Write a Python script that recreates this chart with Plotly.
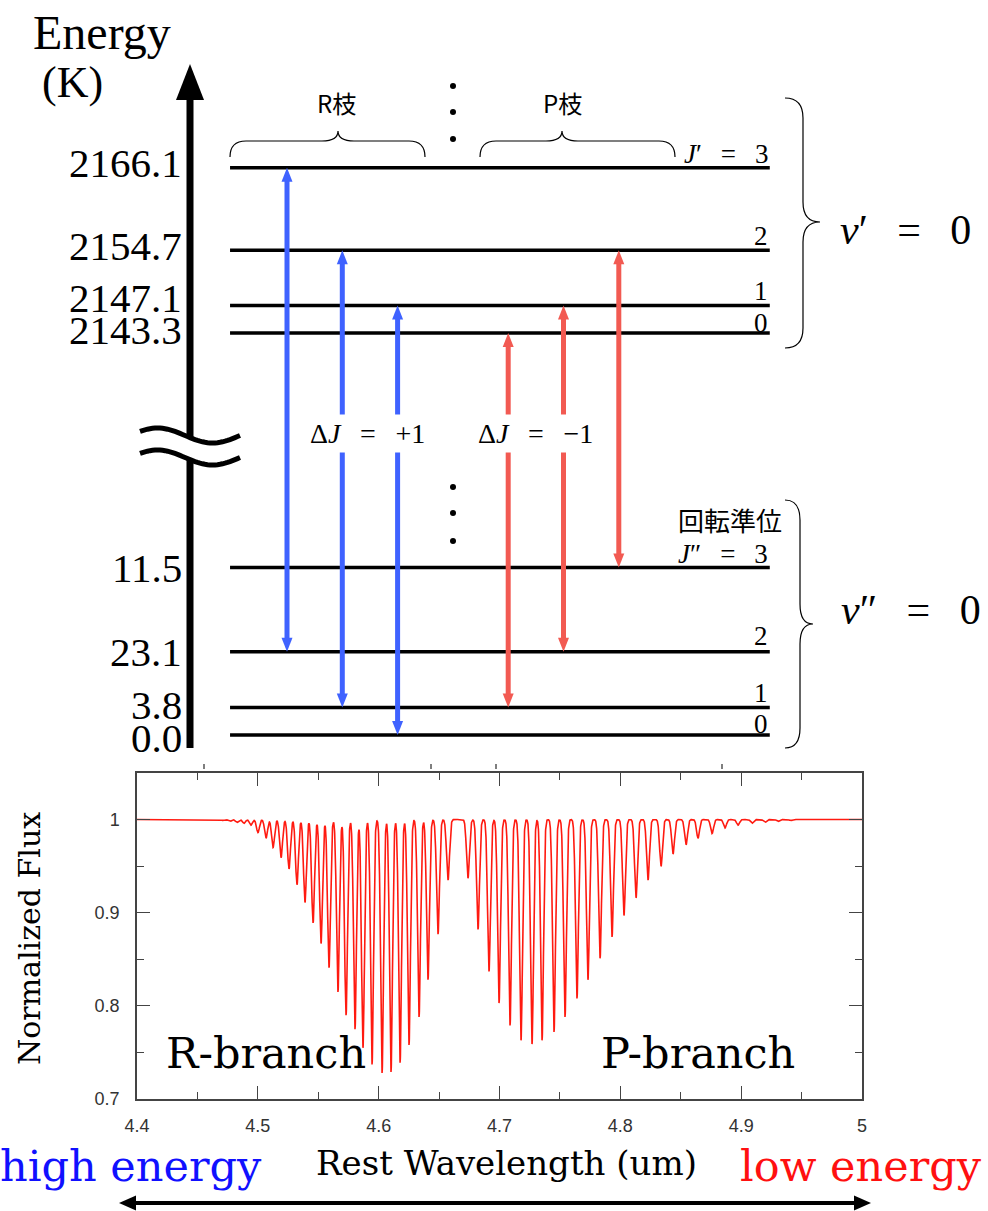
import numpy as np
import plotly.graph_objects as go

# ---------------- data ----------------
upper_J = [0, 1, 2, 3]
upper_energy_K = [2143.3, 2147.1, 2154.7, 2166.1]
upper_energy_labels = ["2143.3", "2147.1", "2154.7", "2166.1"]
upper_level_labels = ["0", "1", "2", "<i>J</i>′\u2002\u2009=\u2002\u20093"]

lower_J = [0, 1, 2, 3]
lower_energy_K = [0.0, 3.8, 11.5, 23.1]
lower_energy_labels = ["0.0", "3.8", "23.1", "11.5"]
lower_level_labels = ["0", "1", "2", "<i>J</i>″\u2002\u2009=\u2002\u20093"]

R_lower_J = [2, 1, 0]
R_upper_J = [3, 2, 1]
P_lower_J = [1, 2, 3]
P_upper_J = [0, 1, 2]

R_line_center_um = [4.4600, 4.4656, 4.4712, 4.4770, 4.4828, 4.4886, 4.4943, 4.5001, 4.5068,
                    4.5126, 4.5192, 4.5258, 4.5324, 4.5390, 4.5457, 4.5523, 4.5589, 4.5663,
                    4.5730, 4.5804, 4.5870, 4.5945, 4.6028, 4.6102, 4.6177, 4.6251, 4.6334,
                    4.6408, 4.6491, 4.6574]
R_line_min_flux = [0.9995, 0.9993, 0.999, 0.998, 0.997, 0.996, 0.994, 0.986, 0.980,
                   0.970, 0.959, 0.947, 0.930, 0.911, 0.889, 0.867, 0.841, 0.815,
                   0.790, 0.775, 0.755, 0.737, 0.728, 0.729, 0.739, 0.758, 0.788,
                   0.828, 0.877, 0.935]
P_line_center_um = [4.6739, 4.6822, 4.6913, 4.6996, 4.7087, 4.7178, 4.7269, 4.7352, 4.7451,
                    4.7542, 4.7641, 4.7732, 4.7832, 4.7931, 4.8030, 4.8130, 4.8229, 4.8337,
                    4.8436, 4.8544, 4.8643, 4.8759, 4.8866, 4.8974, 4.9090, 4.9197, 4.9305,
                    4.9412]
P_line_min_flux = [0.937, 0.882, 0.837, 0.803, 0.779, 0.763, 0.759, 0.763, 0.772,
                   0.788, 0.808, 0.828, 0.851, 0.874, 0.897, 0.916, 0.935, 0.950,
                   0.963, 0.973, 0.980, 0.985, 0.991, 0.994, 0.996, 0.997, 0.998,
                   0.999]

wavelength_tickvals = [4.4, 4.5, 4.6, 4.7, 4.8, 4.9, 5.0]
wavelength_ticktext = ["4.4", "4.5", "4.6", "4.7", "4.8", "4.9", "5"]
flux_tickvals = [0.7, 0.8, 0.9, 1.0]
flux_ticktext = ["0.7", "0.8", "0.9", "1"]

# ---------------- geometry helpers ----------------
W, H = 988, 1211


def xp(px):
    return px / W


def yp(py):
    return 1 - py / H


def P(px, py):
    return f"{xp(px):.5f},{yp(py):.5f}"


K_PX = 7.25          # pixels per kelvin in the level diagram
BASE_PX = 735        # pixel row of the 0 K level
UPPER_BASE_PX = 333  # pixel row of J'=0 (axis break)
upper_offset = upper_energy_K[0] - (BASE_PX - UPPER_BASE_PX) / K_PX


def disp_upper(e):
    return e - upper_offset


SLOT_PX, SLOT1_PX = 55.3, 287
x2_range = [1 - SLOT1_PX / SLOT_PX, 1 + (W - SLOT1_PX) / SLOT_PX]
y2_range = [-(H - BASE_PX) / K_PX, BASE_PX / K_PX]
LEVEL_X0, LEVEL_X1 = -0.03, 9.73
R_slots = [1, 2, 3]
P_slots = [5, 6, 7]
BLUE = "#3f62ff"
RED = "#f25a52"

fig = go.Figure()

# ---------------- energy levels ----------------
up_disp = [disp_upper(e) for e in upper_energy_K]
lo_disp = list(lower_energy_K)
for dlist in (up_disp, lo_disp):
    xs, ys = [], []
    for d in dlist:
        xs += [LEVEL_X0, LEVEL_X1, None]
        ys += [d, d, None]
    fig.add_trace(go.Scatter(x=xs, y=ys, xaxis="x2", yaxis="y2", mode="lines",
                             line=dict(color="black", width=3.5), hoverinfo="skip"))

# ---------------- transitions ----------------
HEAD_L = 14 / K_PX
HEAD_HW = 5.5 / SLOT_PX
shapes = []


def add_transitions(slots, lowJ, upJ, color):
    xs, ys = [], []
    for s, jl, ju in zip(slots, lowJ, upJ):
        d_lo = lo_disp[lower_J.index(jl)]
        d_up = up_disp[upper_J.index(ju)]
        xs += [s, s, None]
        ys += [d_lo + HEAD_L * 0.8, d_up - HEAD_L * 0.8, None]
        shapes.append(dict(type="path", xref="x2", yref="y2", fillcolor=color, line=dict(width=0),
                           path=f"M {s-HEAD_HW},{d_up-HEAD_L} L {s},{d_up} L {s+HEAD_HW},{d_up-HEAD_L} Z"))
        shapes.append(dict(type="path", xref="x2", yref="y2", fillcolor=color, line=dict(width=0),
                           path=f"M {s-HEAD_HW},{d_lo+HEAD_L} L {s},{d_lo} L {s+HEAD_HW},{d_lo+HEAD_L} Z"))
    fig.add_trace(go.Scatter(x=xs, y=ys, xaxis="x2", yaxis="y2", mode="lines",
                             line=dict(color=color, width=5), hoverinfo="skip"))


add_transitions(R_slots, R_lower_J, R_upper_J, BLUE)
add_transitions(P_slots, P_lower_J, P_upper_J, RED)

# ---------------- spectrum ----------------
wl = np.linspace(4.4, 5.0, 6001)
flux = np.ones_like(wl)
sigma = 0.0012
for c, f in zip(R_line_center_um + P_line_center_um, R_line_min_flux + P_line_min_flux):
    flux -= (1 - f) * np.exp(-0.5 * ((wl - c) / sigma) ** 2)
fig.add_trace(go.Scatter(x=wl, y=flux, xaxis="x", yaxis="y", mode="lines",
                         line=dict(color="#ff1a10", width=1.6), hoverinfo="skip"))

# ---------------- decorations ----------------
# energy axis arrow (broken)
shapes.append(dict(type="line", xref="paper", yref="paper", x0=xp(190), x1=xp(190), y0=yp(96), y1=yp(437),
                   line=dict(color="black", width=7)))
shapes.append(dict(type="line", xref="paper", yref="paper", x0=xp(190), x1=xp(190), y0=yp(459), y1=yp(748),
                   line=dict(color="black", width=7)))
shapes.append(dict(type="path", xref="paper", yref="paper", fillcolor="black", line=dict(width=0),
                   path=f"M {P(176,100)} L {P(190,64)} L {P(204,100)} Z"))


def wave(yc):
    xs = np.linspace(140, 240, 41)
    pts = [P(x, yc - 7.5 * np.sin(2 * np.pi * (x - 130) / 110)) for x in xs]
    return "M " + " L ".join(pts)


for yc in (435.5, 457.5):
    shapes.append(dict(type="path", xref="paper", yref="paper", path=wave(yc),
                       line=dict(color="black", width=5)))


def hbrace(x0, x1, xt, y_end, y_flat, y_tip, q=16):
    return (f"M {P(x0,y_end)} Q {P(x0,y_flat)} {P(x0+q,y_flat)} L {P(xt-q,y_flat)} "
            f"Q {P(xt,y_flat)} {P(xt,y_tip)} Q {P(xt,y_flat)} {P(xt+q,y_flat)} "
            f"L {P(x1-q,y_flat)} Q {P(x1,y_flat)} {P(x1,y_end)}")


def vbrace(x_end, x_mid, x_tip, y0, yt, y1, q=20):
    return (f"M {P(x_end,y0)} Q {P(x_mid,y0)} {P(x_mid,y0+q)} L {P(x_mid,yt-q)} "
            f"Q {P(x_mid,yt)} {P(x_tip,yt)} Q {P(x_mid,yt)} {P(x_mid,yt+q)} "
            f"L {P(x_mid,y1-q)} Q {P(x_mid,y1)} {P(x_end,y1)}")


for pth in (hbrace(230, 425, 338, 157, 141, 131), hbrace(480, 675, 562, 157, 141, 131),
            vbrace(785, 803, 820, 98, 222, 348), vbrace(785, 800, 813, 500, 624, 748)):
    shapes.append(dict(type="path", xref="paper", yref="paper", path=pth,
                       line=dict(color="black", width=1.2)))

for (cx, cy) in [(453, 86), (453, 112), (453, 139), (453, 487), (453, 513), (453, 541)]:
    shapes.append(dict(type="circle", xref="paper", yref="paper", fillcolor="black", line=dict(width=0),
                       x0=xp(cx - 3), x1=xp(cx + 3), y0=yp(cy + 3), y1=yp(cy - 3)))

for tx in (204, 431, 496, 722):
    shapes.append(dict(type="line", xref="paper", yref="paper", x0=xp(tx), x1=xp(tx),
                       y0=yp(769), y1=yp(764), line=dict(color="#555", width=1.5)))

# bottom double arrow
shapes.append(dict(type="line", xref="paper", yref="paper", x0=xp(132), x1=xp(858), y0=yp(1203), y1=yp(1203),
                   line=dict(color="black", width=4)))
shapes.append(dict(type="path", xref="paper", yref="paper", fillcolor="black", line=dict(width=0),
                   path=f"M {P(136,1195.5)} L {P(119,1203)} L {P(136,1210.5)} Z"))
shapes.append(dict(type="path", xref="paper", yref="paper", fillcolor="black", line=dict(width=0),
                   path=f"M {P(854,1195.5)} L {P(871,1203)} L {P(854,1210.5)} Z"))

# ---------------- annotations ----------------
ann = []
SERIF = "Liberation Serif"
CENT = "DejaVu Serif"
CJK = "Noto Sans CJK JP"


def A(text, x, y, size, family=SERIF, color="black", xanchor="center", yanchor="middle",
      xref="paper", yref="paper", **kw):
    d = dict(text=text, x=x, y=y, xref=xref, yref=yref, showarrow=False, xanchor=xanchor,
             yanchor=yanchor, font=dict(family=family, size=size, color=color))
    d.update(kw)
    ann.append(d)


A("Energy", xp(102), yp(33), 48)
A("(K)", xp(72), yp(82), 44)

up_label_shift = [3, 7, 4, 5]
lo_label_shift = [-3, 2, 0, 0]
for d, t, s in zip(up_disp, upper_energy_labels, up_label_shift):
    A(t, xp(184), d, 41, xanchor="right", yref="y2", yshift=s)
for d, t, s in zip(lo_disp, lower_energy_labels, lo_label_shift):
    A(t, xp(184), d, 41, xanchor="right", yref="y2", yshift=s)

up_lvl_shift = [-7, -3, -3, -3]
lo_lvl_shift = [-6, -3, -1, -3]
for d, t, s in zip(up_disp, upper_level_labels, up_lvl_shift):
    A(t, LEVEL_X1, d, 27, xanchor="right", yanchor="bottom", xref="x2", yref="y2", yshift=s)
for d, t, s in zip(lo_disp, lower_level_labels, lo_lvl_shift):
    A(t, LEVEL_X1, d, 27, xanchor="right", yanchor="bottom", xref="x2", yref="y2", yshift=s)

A("R枝", xp(336), yp(103), 24, family=CJK)
A("P枝", xp(562), yp(103), 24, family=CJK)
A("回転準位", xp(784), yp(519), 26, family=CJK, xanchor="right")
A("<i>v</i>′\u2002\u2009=\u2002\u20090", xp(905), yp(230), 42)
A("<i>v</i>″\u2002\u2009=\u2002\u20090", xp(911), yp(610), 42)
A("Δ<i>J</i>\u2002\u2009=\u2002\u2009+1", 2.45, yp(433), 28, xref="x2", bgcolor="white", borderpad=3)
A("Δ<i>J</i>\u2002\u2009=\u2002\u2009−1", 5.5, yp(433), 28, xref="x2", bgcolor="white", borderpad=3)

A("Normalized Flux", xp(29), yp(939), 30, family=CENT, textangle=-90)
A("R-branch", xp(266), yp(1053), 43, family=CENT)
A("P-branch", xp(698), yp(1053), 43, family=CENT)
A("Rest Wavelength (um)", xp(506), yp(1163), 34, family=CENT)
A("high energy", xp(131), yp(1166), 43, family=CENT, color="#1010ff")
A("low energy", xp(861), yp(1166), 43, family=CENT, color="#ff1010")

axis_common = dict(showgrid=False, zeroline=False, showline=True, linecolor="#444", linewidth=1.5,
                   mirror="allticks", ticks="inside", ticklen=13, tickwidth=1.2, tickcolor="#444",
                   automargin=False,
                   tickfont=dict(family="Liberation Sans", size=18, color="#333"))

fig.update_layout(
    width=W, height=H, autosize=False,
    margin=dict(l=0, r=0, t=0, b=0, pad=0, autoexpand=False),
    paper_bgcolor="white", plot_bgcolor="rgba(0,0,0,0)",
    showlegend=False,
    xaxis=dict(domain=[xp(137), xp(862)], range=[4.4, 5.0], anchor="y",
               tickmode="array", tickvals=wavelength_tickvals, ticktext=wavelength_ticktext,
               minor=dict(dtick=0.05, tick0=4.4, ticks="inside", ticklen=7, tickwidth=1.2, tickcolor="#444"),
               ticklabelstandoff=10, **axis_common),
    yaxis=dict(domain=[yp(1099), yp(773)], range=[0.7, 1.05], anchor="x",
               tickmode="array", tickvals=flux_tickvals, ticktext=flux_ticktext,
               minor=dict(dtick=0.05, tick0=0.7, ticks="inside", ticklen=7, tickwidth=1.2, tickcolor="#444"),
               ticklabelstandoff=12, **axis_common),
    xaxis2=dict(domain=[0, 1], range=x2_range, anchor="y2", visible=False, automargin=False),
    yaxis2=dict(domain=[0, 1], range=y2_range, anchor="x2", visible=False, automargin=False),
    shapes=shapes,
    annotations=ann,
)

fig.write_html("out.html",
               config={"displayModeBar": False},
               post_script="document.documentElement.style.margin='0';"
                           "document.documentElement.style.overflow='hidden';"
                           "document.body.style.margin='0';document.body.style.padding='0';"
                           "document.body.style.overflow='hidden';")
